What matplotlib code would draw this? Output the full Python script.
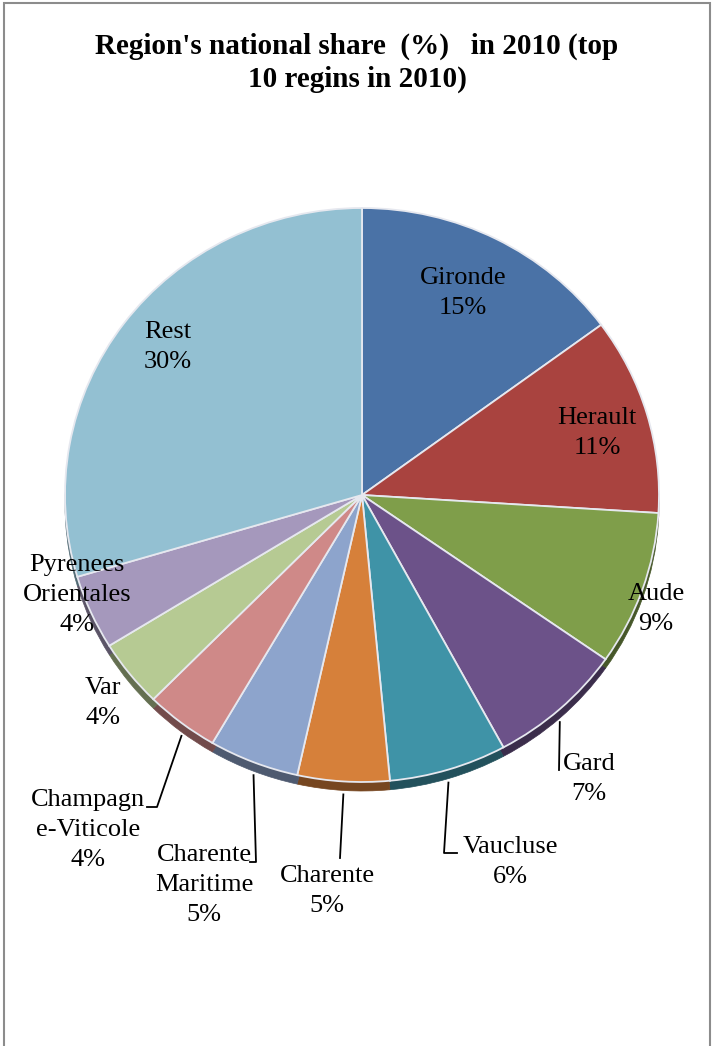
import numpy as np
import matplotlib
matplotlib.use("Agg")
import matplotlib.pyplot as plt
from matplotlib.colors import to_rgb
from matplotlib.patches import Rectangle
from matplotlib.lines import Line2D

# data (national share in %, 2010)
regions = ["Gironde", "Herault", "Aude", "Gard", "Vaucluse", "Charente",
           "Charente\nMaritime", "Champagn\ne-Viticole", "Var",
           "Pyrenees\nOrientales", "Rest"]
shares = [14.9, 11.1, 8.7, 7.4, 6.4, 5.0, 4.9, 4.0, 3.8, 4.2, 29.6]
pct_labels = ["15%", "11%", "9%", "7%", "6%", "5%", "5%", "4%", "4%", "4%", "30%"]
colors = ["#4A72A6", "#A9433F", "#7F9E4A", "#6C5289", "#3F93A7", "#D6803A",
          "#8DA4CC", "#CF8988", "#B6CA93", "#A598BC", "#93C0D2"]

# label centres in pixels (x, y from top)
label_pos = [(463, 293), (597, 433), (656, 609), (589, 779), (510, 862),
             (327, 891), (204, 885), (88, 830), (103, 703), (77, 595), (168, 347)]
# leader line end points for the labels that have one (pixels)
leaders = {3: [(559, 770)],
           4: [(444, 853), (457, 853)],
           5: [(340, 858)],
           6: [(256, 862), (250, 862)],
           7: [(157, 807), (147, 807)]}

W, H = 714, 1046
cx, cy = 362, 495      # pie centre in pixels
rx, ry = 297, 287      # pie radii in pixels
depth = 9              # side thickness in pixels

plt.rcParams['font.family'] = ['Liberation Serif', 'DejaVu Serif']

fig = plt.figure(figsize=(W / 100, H / 100), dpi=100)
fig.patch.set_facecolor("white")

# chart frame
fig.patches.append(Rectangle((4 / W, -0.01), 706 / W, 1 - 3 / H + 0.01,
                             transform=fig.transFigure, fill=False,
                             edgecolor="#8c8c8c", linewidth=1.5))

fig.text(0.5, 1 - 63 / H, "Region's national share  (%)   in 2010 (top\n10 regins in 2010)",
         ha="center", va="center", fontsize=21, fontweight="bold", linespacing=1.25)

ylow = -1 - depth / ry - 0.02
ax = fig.add_axes([(cx - rx) / W, 1 - (cy - ylow * ry) / H, 2 * rx / W, (1 - ylow) * ry / H])

side = [tuple(np.array(to_rgb(c)) * 0.55) for c in colors]
side_wedges, _ = ax.pie(shares, colors=side, startangle=90, counterclock=False, radius=1,
                        center=(0, -depth / ry))
for w, c in zip(side_wedges, side):
    w.set_edgecolor(c)
    w.set_linewidth(0.5)
ax.pie(shares, colors=colors, startangle=90, counterclock=False, radius=1,
       center=(0, 0), wedgeprops=dict(edgecolor="#e6e8ef", linewidth=1.3))
ax.set_aspect("auto")
ax.set_xlim(-1, 1)
ax.set_ylim(ylow, 1)
ax.axis("off")

# labels
for i, (name, pct) in enumerate(zip(regions, pct_labels)):
    x, y = label_pos[i]
    fig.text(x / W, 1 - y / H, name + "\n" + pct, ha="center", va="center",
             fontsize=19, linespacing=1.45, color="black")

# leader lines from the wedge rim to the labels
cum = np.cumsum([0] + shares)
for i, pts in leaders.items():
    mid = 90 - 360 * (cum[i] + shares[i] / 2) / 100
    sx = cx + rx * np.cos(np.radians(mid))
    sy = cy - ry * np.sin(np.radians(mid)) + depth + 4
    xs = [sx] + [p[0] for p in pts]
    ys = [sy] + [p[1] for p in pts]
    fig.lines.append(Line2D([v / W for v in xs], [1 - v / H for v in ys],
                            transform=fig.transFigure, color="black", linewidth=1.3))

fig.savefig("out.png", dpi=100)
